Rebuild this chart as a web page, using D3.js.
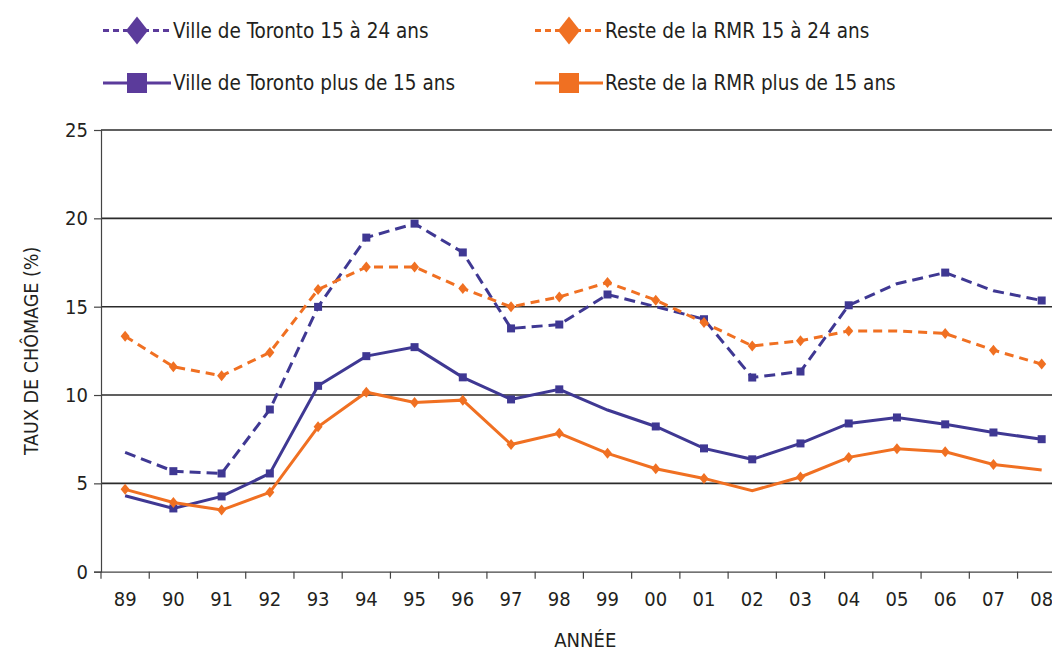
<!DOCTYPE html>
<html>
<head>
<meta charset="utf-8">
<script src="https://cdn.jsdelivr.net/npm/d3@7"></script>
<style>
  body { margin: 0; background: #fff; }
  svg text { font-family: "Liberation Sans Narrow", "DejaVu Sans Condensed", sans-serif; fill: #231f20; }
</style>
</head>
<body>
<script>
const years = ["89", "90", "91", "92", "93", "94", "95", "96", "97", "98",
               "99", "00", "01", "02", "03", "04", "05", "06", "07", "08"];
const yTicks = [0, 5, 10, 15, 20, 25];

const torontoYouth = [6.75, 5.69, 5.56, 9.18, 14.99, 18.91, 19.7, 18.07, 13.77, 13.99,
                      15.69, 15.0, 14.29, 10.99, 11.33, 15.08, 16.3, 16.93, 15.9, 15.35];
const restYouth = [13.33, 11.6, 11.09, 12.41, 15.97, 17.25, 17.25, 16.03, 14.99, 15.55,
                   16.37, 15.37, 14.1, 12.78, 13.07, 13.63, 13.63, 13.48, 12.54, 11.75];
const torontoAll = [4.3, 3.58, 4.26, 5.56, 10.52, 12.2, 12.71, 11.0, 9.75, 10.32,
                    9.15, 8.22, 6.98, 6.36, 7.26, 8.39, 8.73, 8.34, 7.88, 7.5];
const restAll = [4.66, 3.92, 3.49, 4.49, 8.2, 10.16, 9.58, 9.71, 7.2, 7.83,
                 6.7, 5.83, 5.28, 4.58, 5.36, 6.47, 6.96, 6.79, 6.07, 5.75];

// points drawn without a marker in the original
const torontoYouthNoMark = ["89", "00", "05", "07"];
const restYouthNoMark = ["05"];
const torontoAllNoMark = ["89", "99"];
const restAllNoMark = ["02", "08"];

const purple = "#3f3893";
const purpleLegend = "#5b3b9b";
const orange = "#f07022";

const series = [
    { name: "Ville de Toronto 15 à 24 ans", values: torontoYouth, color: purple, dash: "11,6", mark: "square", skip: torontoYouthNoMark },
    { name: "Reste de la RMR 15 à 24 ans", values: restYouth, color: orange, dash: "9,6", mark: "diamond", skip: restYouthNoMark },
    { name: "Ville de Toronto plus de 15 ans", values: torontoAll, color: purple, dash: null, mark: "square", skip: torontoAllNoMark },
    { name: "Reste de la RMR plus de 15 ans", values: restAll, color: orange, dash: null, mark: "diamond", skip: restAllNoMark }
];

const width = 1052, height = 650;
const plotLeft = 101, plotTop = 130, plotBottom = 571.7, step = 48.24;

const svg = d3.select("body").append("svg")
    .attr("width", width)
    .attr("height", height);

const x = d3.scaleBand().domain(years).range([plotLeft, plotLeft + step * years.length]).padding(0);
const y = d3.scaleLinear().domain([0, 25]).range([plotBottom, plotTop]);

// grid lines
svg.append("g").selectAll("line")
    .data(yTicks.filter(d => d > 0))
    .join("line")
    .attr("x1", plotLeft).attr("x2", width)
    .attr("y1", d => y(d)).attr("y2", d => y(d))
    .attr("stroke", "#2b2b2b")
    .attr("stroke-width", 1.6);

// y axis
const yAxis = svg.append("g")
    .attr("transform", `translate(${plotLeft},0)`)
    .call(d3.axisLeft(y).tickValues(yTicks).tickSize(7).tickPadding(6));
yAxis.select(".domain").attr("stroke", "#444").attr("stroke-width", 1.2);
yAxis.selectAll(".tick line").attr("stroke", "#444").attr("stroke-width", 1.2);
yAxis.selectAll(".tick text").attr("font-size", 20).attr("fill", "#231f20")
    .attr("font-family", "Liberation Sans Narrow, DejaVu Sans Condensed, sans-serif");

// x axis
const xAxis = svg.append("g")
    .attr("transform", `translate(0,${plotBottom})`)
    .call(d3.axisBottom(x).tickSize(0).tickPadding(20));
xAxis.select(".domain").attr("stroke", "#444").attr("stroke-width", 1.2);
xAxis.selectAll(".tick text").attr("font-size", 20).attr("fill", "#231f20")
    .attr("font-family", "Liberation Sans Narrow, DejaVu Sans Condensed, sans-serif");
xAxis.append("g").selectAll("line")
    .data(years)
    .join("line")
    .attr("x1", d => x(d)).attr("x2", d => x(d))
    .attr("y1", 0).attr("y2", 7)
    .attr("stroke", "#444")
    .attr("stroke-width", 1.2);

// axis titles
svg.append("text")
    .attr("x", x("98") + x.bandwidth() * 0.5 + 26)
    .attr("y", 641)
    .attr("text-anchor", "middle")
    .attr("dominant-baseline", "middle")
    .attr("font-size", 20)
    .text("ANNÉE");

svg.append("text")
    .attr("transform", `translate(32,${y(12.5)}) rotate(-90)`)
    .attr("text-anchor", "middle")
    .attr("dominant-baseline", "middle")
    .attr("font-size", 19.5)
    .text("TAUX DE CHÔMAGE (%)");

// lines and markers
const line = d3.line()
    .x((d, i) => x(years[i]) + x.bandwidth() / 2)
    .y(d => y(d));

const square = d3.symbol().type(d3.symbolSquare).size(64);
const diamond = "M0,-5.5L4.5,0L0,5.5L-4.5,0Z";

series.forEach(s => {
    svg.append("path")
        .datum(s.values)
        .attr("d", line)
        .attr("fill", "none")
        .attr("stroke", s.color)
        .attr("stroke-width", 3)
        .attr("stroke-dasharray", s.dash);

    svg.append("g").selectAll("path")
        .data(s.values.map((v, i) => ({ year: years[i], v })).filter(d => !s.skip.includes(d.year)))
        .join("path")
        .attr("transform", d => `translate(${x(d.year) + x.bandwidth() / 2},${y(d.v)})`)
        .attr("d", s.mark === "square" ? square() : diamond)
        .attr("fill", s.color);
});

// legend
const legendPos = [
    { x: 103, y: 30.5 }, { x: 535, y: 30.5 },
    { x: 103, y: 83 }, { x: 535, y: 83 }
];
const legendMarks = ["bigDiamond", "bigDiamond", "bigSquare", "bigSquare"];
const legendColors = [purpleLegend, orange, purpleLegend, orange];

series.forEach((s, i) => {
    const p = legendPos[i];
    const g = svg.append("g").attr("transform", `translate(${p.x},${p.y})`);
    g.append("line")
        .attr("x1", 0).attr("x2", 68)
        .attr("y1", 0).attr("y2", 0)
        .attr("stroke", legendColors[i])
        .attr("stroke-width", 3)
        .attr("stroke-dasharray", s.dash ? "6,4" : null);
    if (legendMarks[i] === "bigDiamond") {
        g.append("path")
            .attr("d", "M34,-14L45,0L34,14L23,0Z")
            .attr("fill", legendColors[i]);
    } else {
        g.append("rect")
            .attr("x", 24).attr("y", -10)
            .attr("width", 20).attr("height", 20)
            .attr("fill", legendColors[i]);
    }
    g.append("text")
        .attr("x", 70)
        .attr("y", 1)
        .attr("dominant-baseline", "middle")
        .attr("font-size", 20.5)
        .text(s.name);
});
</script>
</body>
</html>
